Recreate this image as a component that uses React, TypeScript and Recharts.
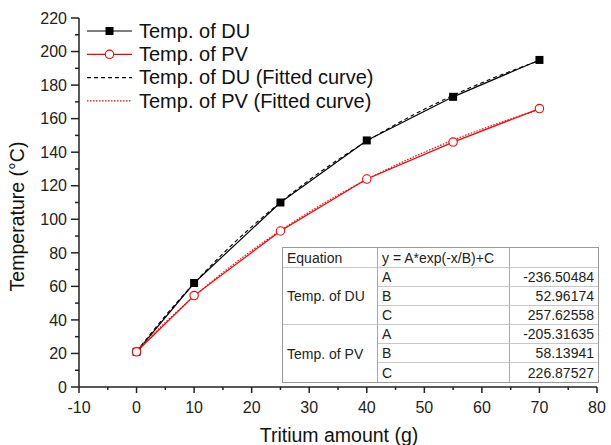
import React from 'react';
import { LineChart, Line, XAxis, YAxis } from 'recharts';

const FONT = '"Liberation Sans", Arial, sans-serif';

// Measured data
const xMeasured = [0, 10, 25, 40, 55, 70];
const tempDU = [21, 62, 110, 147, 173, 195];
const tempPV = [21, 54.5, 93, 124, 146, 166];

// Fitted curves
const xFit = [0, 5, 10, 15, 20, 25, 30, 35, 40, 45, 50, 55, 60, 65, 70];
const fitDU = [21.1, 42.4, 61.8, 79.5, 95.5, 110.1, 123.4, 135.5, 146.5, 156.5, 165.6, 173.9, 181.4, 188.3, 194.6];
const fitPV = [21.6, 38.5, 54.0, 68.2, 81.3, 93.3, 104.3, 114.4, 123.7, 132.2, 140.0, 147.2, 153.7, 159.8, 165.3];

// Axis ticks
const xTicks = [-10, -5, 0, 5, 10, 15, 20, 25, 30, 35, 40, 45, 50, 55, 60, 65, 70, 75, 80];
const yTicks = [0, 10, 20, 30, 40, 50, 60, 70, 80, 90, 100, 110, 120, 130, 140, 150, 160, 170, 180, 190, 200, 210, 220];

// Fit table
const fitSeries = ['Temp. of DU', 'Temp. of PV'];
const paramNames = ['A', 'B', 'C'];
const paramDU = ['-236.50484', '52.96174', '257.62558'];
const paramPV = ['-205.31635', '58.13941', '226.87527'];
const paramValues = [paramDU, paramPV];

const legendLabels = ['Temp. of DU', 'Temp. of PV', 'Temp. of DU (Fitted curve)', 'Temp. of PV (Fitted curve)'];

const toPoints = (xs: number[], ys: number[]) => xs.map((x, i) => ({ x, y: ys[i] }));

const AX = '#222';

const XTick = (props: any) => {
  const { x, y, payload } = props;
  const v = payload.value;
  const major = v % 10 === 0;
  return (
    <g>
      <line x1={x} y1={y} x2={x} y2={y + (major ? 6 : 3)} stroke={AX} strokeWidth={1.5} />
      {major && (
        <text x={x} y={y + 26} textAnchor="middle" fontSize={16} fill={AX} fontFamily={FONT}>
          {v}
        </text>
      )}
    </g>
  );
};

const YTick = (props: any) => {
  const { x, y, payload } = props;
  const v = payload.value;
  const major = v % 20 === 0;
  return (
    <g>
      <line x1={x} y1={y} x2={x - (major ? 8 : 4)} y2={y} stroke={AX} strokeWidth={1.5} />
      {major && (
        <text x={x - 12} y={y + 5.7} textAnchor="end" fontSize={16} fill={AX} fontFamily={FONT}>
          {v}
        </text>
      )}
    </g>
  );
};

const SquareDot = (props: any) => {
  const { cx, cy } = props;
  if (cx == null || cy == null) return null;
  return <rect x={cx - 4} y={cy - 4} width={8} height={8} fill="#000" />;
};

const CircleDot = (props: any) => {
  const { cx, cy } = props;
  if (cx == null || cy == null) return null;
  return <circle cx={cx} cy={cy} r={4.2} fill="#fff" stroke="#ff0000" strokeWidth={1.1} />;
};

const Legend = () => {
  const rows = [31, 54.3, 77.6, 100.9];
  const lx1 = 87;
  const lx2 = 132;
  const tx = 139;
  return (
    <svg width={611} height={445} style={{ position: 'absolute', left: 0, top: 0, pointerEvents: 'none' }}>
      <line x1={lx1} y1={rows[0]} x2={lx2} y2={rows[0]} stroke="#000" strokeWidth={1.2} />
      <rect x={(lx1 + lx2) / 2 - 4} y={rows[0] - 4} width={8} height={8} fill="#000" />
      <line x1={lx1} y1={rows[1]} x2={lx2} y2={rows[1]} stroke="#ff0000" strokeWidth={1.2} />
      <circle cx={(lx1 + lx2) / 2} cy={rows[1]} r={4.2} fill="#fff" stroke="#ff0000" strokeWidth={1.1} />
      <line x1={lx1} y1={rows[2]} x2={lx2} y2={rows[2]} stroke="#000" strokeWidth={1.1} strokeDasharray="4 3" />
      <line x1={lx1} y1={rows[3]} x2={lx2} y2={rows[3]} stroke="#ff0000" strokeWidth={1.2} strokeDasharray="1.5 1.5" />
      {legendLabels.map((t, i) => (
        <text key={t} x={tx} y={rows[i] + 6.6} fontSize={20} fill="#111" fontFamily={FONT}>
          {t}
        </text>
      ))}
    </svg>
  );
};

const FitTable = () => {
  const H = '1px solid #c8c8c8';
  const V = '1px solid #a8a8a8';
  const cell = (extra: React.CSSProperties): React.CSSProperties => ({
    display: 'flex',
    alignItems: 'center',
    padding: '0 4px',
    boxSizing: 'border-box',
    whiteSpace: 'nowrap',
    ...extra,
  });
  const items: React.ReactNode[] = [];
  items.push(
    <div key="h1" style={cell({ gridRow: 1, gridColumn: 1, borderRight: V, borderBottom: H })}>Equation</div>,
    <div key="h2" style={cell({ gridRow: 1, gridColumn: 2, borderRight: V, borderBottom: H })}>y = A*exp(-x/B)+C</div>,
    <div key="h3" style={cell({ gridRow: 1, gridColumn: 3, borderBottom: H })}></div>
  );
  fitSeries.forEach((s, si) => {
    const r0 = 2 + si * 3;
    items.push(
      <div key={'s' + si} style={cell({ gridRow: `${r0} / span 3`, gridColumn: 1, borderRight: V, borderBottom: si === 0 ? H : 'none' })}>{s}</div>
    );
    paramNames.forEach((p, pi) => {
      const last = si === 1 && pi === 2;
      items.push(
        <div key={`p${si}${pi}`} style={cell({ gridRow: r0 + pi, gridColumn: 2, borderRight: V, borderBottom: last ? 'none' : H })}>{p}</div>,
        <div key={`v${si}${pi}`} style={cell({ gridRow: r0 + pi, gridColumn: 3, justifyContent: 'flex-end', borderBottom: last ? 'none' : H })}>{paramValues[si][pi]}</div>
      );
    });
  });
  return (
    <div
      style={{
        position: 'absolute',
        left: 282,
        top: 247,
        width: 317,
        height: 136,
        boxSizing: 'border-box',
        border: '1.5px solid #999',
        background: '#fff',
        fontFamily: FONT,
        fontSize: 14,
        color: '#222',
        display: 'grid',
        gridTemplateColumns: '95px 132px 1fr',
        gridTemplateRows: '20px repeat(6, 1fr)',
      }}
    >
      {items}
    </div>
  );
};

export default function App() {
  return (
    <div style={{ position: 'absolute', left: 0, top: 0, width: 611, height: 445, background: '#fff', fontFamily: FONT }}>
      <LineChart width={611} height={445} margin={{ top: 18, right: 14, bottom: 0, left: 0 }}>
        <XAxis
          type="number"
          dataKey="x"
          domain={[-10, 80]}
          ticks={xTicks}
          interval={0}
          tick={<XTick />}
          tickLine={false}
          tickSize={0}
          tickMargin={0}
          height={58}
          axisLine={{ stroke: AX, strokeWidth: 1.5 }}
          allowDataOverflow
          label={{
            content: (p: any) => {
              const vb = p.viewBox || { x: 79, y: 387, width: 518, height: 58 };
              return (
                <text x={vb.x + vb.width / 2 + 1} y={vb.y + 55} textAnchor="middle" fontSize={19.5} fill="#111" fontFamily={FONT}>
                  Tritium amount (g)
                </text>
              );
            },
          }}
        />
        <YAxis
          type="number"
          dataKey="y"
          domain={[0, 220]}
          ticks={yTicks}
          interval={0}
          tick={<YTick />}
          tickLine={false}
          tickSize={0}
          tickMargin={0}
          width={79}
          axisLine={{ stroke: AX, strokeWidth: 1.5 }}
          allowDataOverflow
          label={{
            content: (p: any) => {
              const vb = p.viewBox || { x: 0, y: 18, width: 79, height: 369 };
              const cx = vb.x + 24;
              const cy = vb.y + vb.height / 2 + 14;
              return (
                <text x={cx} y={cy} textAnchor="middle" fontSize={19.5} fill="#111" fontFamily={FONT} transform={`rotate(-90 ${cx} ${cy})`}>
                  Temperature (°C)
                </text>
              );
            },
          }}
        />
        <Line data={toPoints(xMeasured, tempDU)} dataKey="y" type="linear" stroke="#000" strokeWidth={1.2} dot={<SquareDot />} isAnimationActive={false} />
        <Line data={toPoints(xMeasured, tempPV)} dataKey="y" type="linear" stroke="#ff0000" strokeWidth={1.2} dot={<CircleDot />} isAnimationActive={false} />
        <Line data={toPoints(xFit, fitDU)} dataKey="y" type="monotone" stroke="#000" strokeWidth={1.1} strokeDasharray="4 3" dot={false} isAnimationActive={false} />
        <Line data={toPoints(xFit, fitPV)} dataKey="y" type="monotone" stroke="#ff0000" strokeWidth={1.2} strokeDasharray="1.5 1.5" dot={false} isAnimationActive={false} />
      </LineChart>
      <Legend />
      <FitTable />
    </div>
  );
}
